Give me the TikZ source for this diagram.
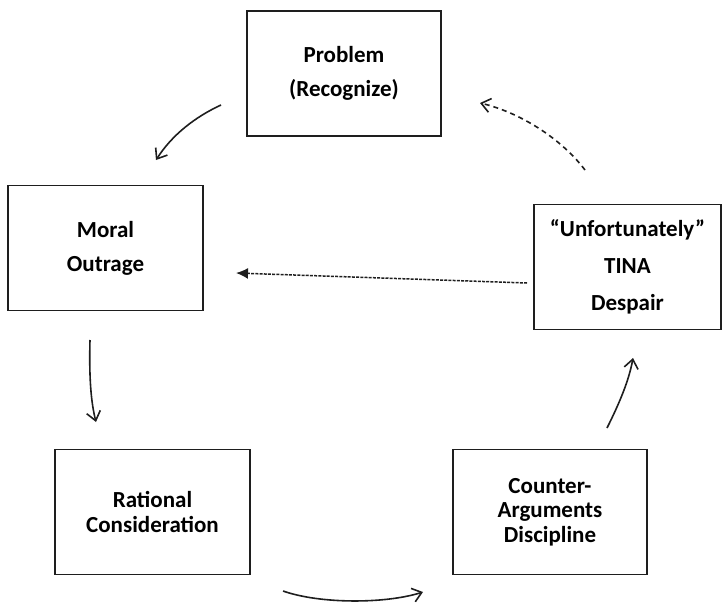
\documentclass[tikz,border=0pt]{standalone}
\usepackage{fontspec}
\setmainfont{Carlito}
\usetikzlibrary{arrows.meta}
\definecolor{boxline}{HTML}{1E1E1E}
\tikzset{every node/.style={font=\bfseries\fontsize{23}{34}\selectfont},
  stagebox/.style={draw=boxline,line width=1.7pt,fill=white,align=center,
    minimum width=194pt,minimum height=125pt,inner sep=2pt},
  tightbox/.style={stagebox,font=\bfseries\fontsize{23}{24.5}\selectfont},
  flow/.style={draw=boxline,line width=1.6pt,
    -{Straight Barb[length=9pt,width=14pt,line width=1.6pt]}},
  backflow/.style={flow,dash pattern=on 5pt off 4pt},
  shortcut/.style={draw=boxline,line width=1.5pt,dash pattern=on 3pt off 1.2pt,
    -{Latex[length=12pt,width=11pt]}}}

\begin{document}
\begin{tikzpicture}[x=1pt,y=-1pt]
  \path[use as bounding box] (0,0) rectangle (722,605);
  % the five stages
  \node[stagebox] (problem) at (344,73.5) {Problem\\(Recognize)};
  \node[stagebox,minimum width=195pt] (moral) at (105.5,248) {Moral\\Outrage};
  \node[stagebox,minimum width=187pt,font=\bfseries\fontsize{23}{37}\selectfont]
    (despair) at (627.5,267) {“Unfortunately”\\TINA\\Despair};
  \node[tightbox,minimum width=195pt] (rational) at (152.5,512)
    {Rational\\Consideration};
  \node[tightbox] (counter) at (550,512) {Counter-\\Arguments\\Discipline};
  % loose arrow ends
  \coordinate (pm-a) at (221,105);
  \coordinate (pm-b) at (156,160);
  \coordinate (mr-a) at (90,340);
  \coordinate (mr-b) at (96,422);
  \coordinate (rc-a) at (283,591);
  \coordinate (rc-b) at (423,592);
  \coordinate (cd-a) at (607,428);
  \coordinate (cd-b) at (633,358);
  \coordinate (dp-a) at (585,170);
  \coordinate (dp-b) at (480,103);
  \coordinate (dm-a) at (527,283);
  \coordinate (dm-b) at (236,273);
  % arrows round the cycle
  \draw[flow] (pm-a) .. controls (195,117) and (172,135) .. (pm-b);
  \draw[flow] (mr-a) .. controls (89,378) and (91,402) .. (mr-b);
  \draw[flow] (rc-a) .. controls (320,604) and (385,604) .. (rc-b);
  \draw[flow] (cd-a) .. controls (620,402) and (629,380) .. (cd-b);
  \draw[backflow] (dp-a) .. controls (560,137) and (518,112) .. (dp-b);
  \draw[shortcut] (dm-a) -- (dm-b);
\end{tikzpicture}
\end{document}
